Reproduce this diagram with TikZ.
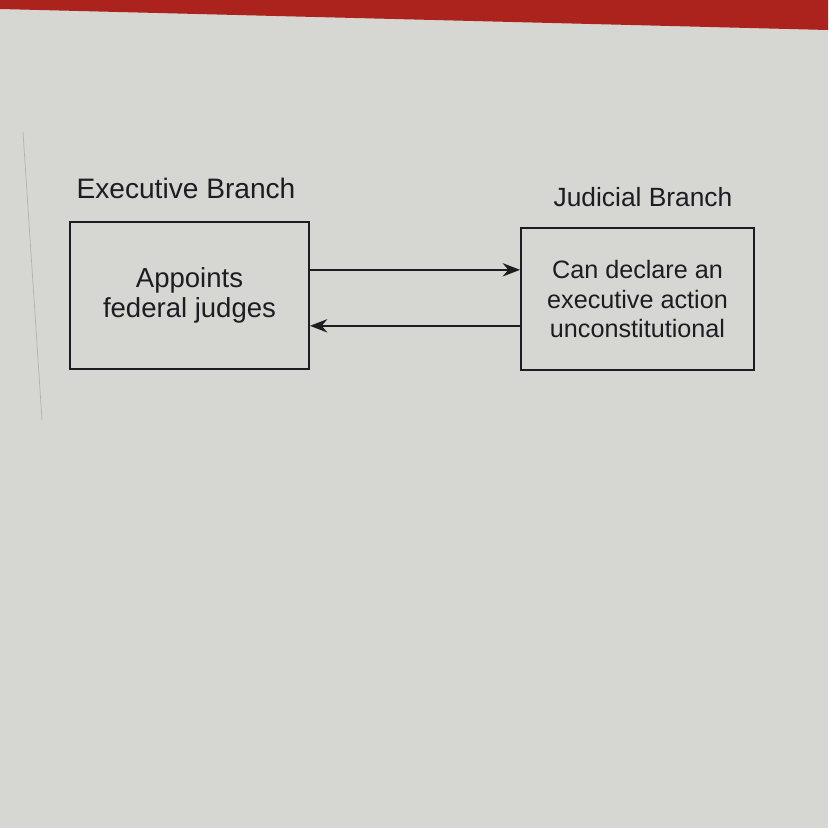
\documentclass[tikz,border=0pt]{standalone}
\usepackage{fontspec}
\setmainfont{Liberation Sans}
\usetikzlibrary{positioning,arrows.meta}

\definecolor{screengray}{RGB}{214,214,210}
\definecolor{bandred}{RGB}{172,34,28}
\definecolor{inkdark}{RGB}{28,28,34}
\definecolor{edgegray}{RGB}{178,178,180}

\tikzset{
  branchbox/.style={draw=inkdark, line width=1.7pt, align=center, inner sep=0pt, text=inkdark},
  branchlabel/.style={text=inkdark},
  checkarrow/.style={draw=inkdark, line width=1.7pt, -{Stealth[length=5.2mm,width=4mm]}}
}

\begin{document}
\begin{tikzpicture}[x=0.3mm, y=-0.3mm]
  % screen, top band and faint edge line
  \fill[screengray] (0,0) rectangle (828,828);
  \fill[bandred] (0,0) -- (828,0) -- (828,30) -- (0,9) -- cycle;
  \draw[edgegray, line width=0.6pt] (23,132) -- (42,420);
  \useasboundingbox (0,0) rectangle (828,828);

  % boxes
  \node[branchbox, font=\fontsize{23.5}{25}\selectfont,
        minimum width=71.7mm, minimum height=44.1mm] (exec) at (189.5,295.5)
    {Appoints\\federal judges};
  \node[branchbox, font=\fontsize{21.5}{25}\selectfont,
        minimum width=69.9mm, minimum height=42.6mm] (judicial) at (637.5,299)
    {Can declare an\\executive action\\unconstitutional};

  % titles
  \node[branchlabel, font=\fontsize{24}{28}\selectfont] (execlabel) at (186,188) {Executive Branch};
  \node[branchlabel, font=\fontsize{22.5}{27}\selectfont] (judiciallabel) at (643,197) {Judicial Branch};

  % arrows
  \draw[checkarrow] ([yshift=7.7mm]exec.east) -- ([yshift=7.7mm]exec.east -| judicial.west);
  \draw[checkarrow] ([yshift=-9.1mm]exec.east -| judicial.west) -- ([yshift=-9.1mm]exec.east);
\end{tikzpicture}
\end{document}
